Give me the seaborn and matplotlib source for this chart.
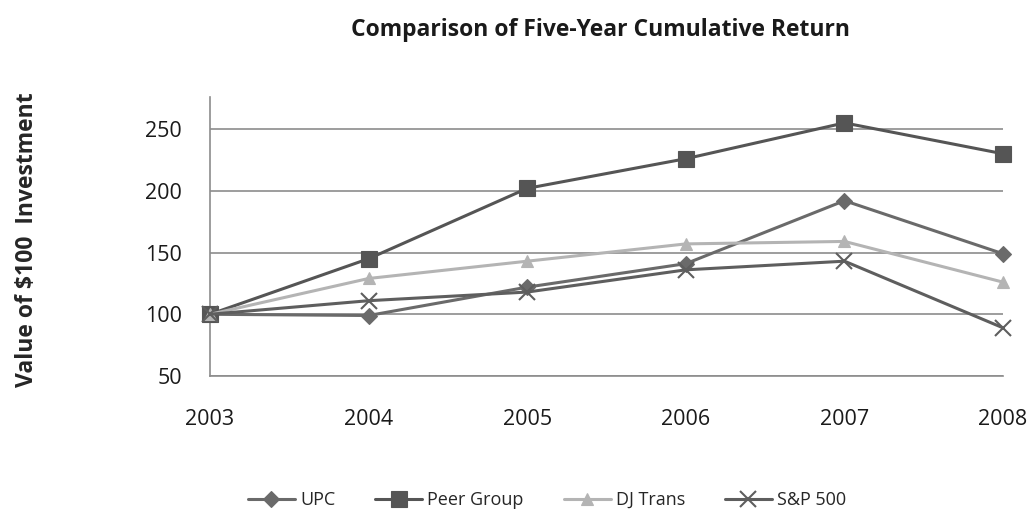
import matplotlib
matplotlib.use("Agg")
import matplotlib.pyplot as plt
import seaborn as sns
import pandas as pd

# valeurs
years = [2003, 2004, 2005, 2006, 2007, 2008]
upc = [100, 99, 122, 141, 192, 149]
peer_group = [100, 145, 202, 226, 255, 230]
dj_trans = [100, 129, 143, 157, 159, 126]
sp500 = [100, 111, 118, 136, 143, 89]

series = ["UPC", "Peer Group", "DJ Trans", "S&P 500"]
colors = ["#6a6a6a", "#555555", "#b4b4b4", "#5e5e5e"]
markers = ["D", "s", "^", "x"]
sizes = [8, 11, 9, 11]

df = pd.DataFrame({"Year": years, "UPC": upc, "Peer Group": peer_group,
                   "DJ Trans": dj_trans, "S&P 500": sp500})
long_df = df.melt(id_vars="Year", var_name="Series", value_name="Value")

sns.set_style("white")
plt.rcParams["font.family"] = ["Open Sans", "DejaVu Sans"]

fig = plt.figure(figsize=(10.32, 5.12), dpi=100)
ax = fig.add_axes([0.2035, 0.2656, 0.7685, 0.545])

for name, col, mk, ms in zip(series, colors, markers, sizes):
    sub = long_df[long_df["Series"] == name]
    sns.lineplot(data=sub, x="Year", y="Value", ax=ax, color=col, linewidth=2.2,
                 marker=mk, markersize=ms, markeredgecolor=col,
                 markeredgewidth=1.5 if mk == "x" else 0.8, label=name,
                 clip_on=False, zorder=3)

ax.set_xlim(2003, 2008)
ax.set_ylim(50, 276)
ax.set_yticks([50, 100, 150, 200, 250])
ax.set_xticks(years)
ax.yaxis.grid(True, color="#8c8c8c", linewidth=1.2)
ax.set_axisbelow(True)
for s in ["top", "right"]:
    ax.spines[s].set_visible(False)
for s in ["left", "bottom"]:
    ax.spines[s].set_color("#8c8c8c")
    ax.spines[s].set_linewidth(1.2)
ax.tick_params(axis="both", length=6, color="#8c8c8c", labelsize=15.5,
               labelcolor="#1a1a1a", direction="out")
ax.tick_params(axis="x", pad=18)
ax.tick_params(axis="y", pad=14)
ax.set_xlabel("")
ax.set_ylabel("Value of $100  Investment", fontsize=16.5, fontweight="bold")
ax.yaxis.set_label_coords(-0.215, 0.49)

fig.suptitle("Comparison of Five-Year Cumulative Return", fontsize=16.5,
             fontweight="bold", x=0.582, y=0.965, color="#1a1a1a")

ax.legend(loc="center", bbox_to_anchor=(0.425, -0.445), ncol=4, frameon=False,
          fontsize=13, handlelength=2.6, handletextpad=0.3, columnspacing=2.2)

fig.savefig("out.png", dpi=100)
